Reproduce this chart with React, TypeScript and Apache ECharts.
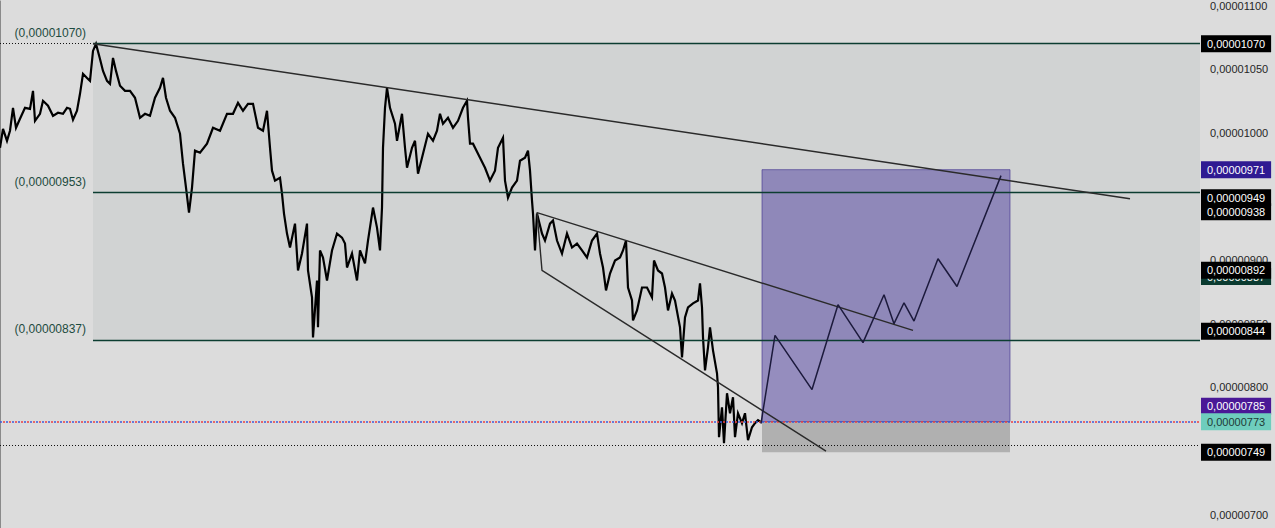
import React, { useEffect, useRef } from "react";
import * as echarts from "echarts";

// prices are in units of 1e-8 (1070 => 0,00001070)
const priceBars = [
  0, 3, 7, 10, 13, 16, 20, 25, 30, 33, 35, 40, 43, 48, 53, 58, 63, 67, 70, 73, 77, 80, 83, 87, 90, 93, 96,
  100, 103, 107, 110, 113, 116, 120, 125, 130, 135, 140, 145, 150, 155, 160, 163, 166, 170, 175, 180, 183,
  186, 189, 192, 195, 200, 207, 213, 220, 227, 233, 238, 243, 248, 253, 258, 263, 267, 270, 272, 275, 280,
  282, 284, 287, 290, 295, 298, 302, 307, 308, 312, 313, 317, 318, 320, 323, 327, 332, 337, 342, 345, 347,
  352, 357, 360, 365, 368, 373, 377, 380, 382, 383, 385, 387, 390, 395, 397, 402, 405, 407, 412, 415, 418,
  423, 428, 433, 437, 440, 443, 448, 453, 458, 463, 467, 468, 470, 473, 480, 485, 490, 495, 498, 503, 505,
  508, 512, 517, 520, 525, 528, 530, 532, 533, 535, 537, 542, 545, 550, 553, 557, 562, 567, 572, 577, 582,
  587, 592, 597, 600, 603, 606, 610, 615, 620, 623, 626, 628, 632, 633, 637, 642, 647, 652, 654, 658, 662,
  665, 668, 672, 675, 680, 682, 685, 688, 693, 698, 700, 702, 703, 705, 708, 710, 713, 717, 718, 719, 722,
  724, 727, 730, 733, 735, 738, 742, 745, 748, 752, 755, 758, 761,
];
const priceValues = [
  988.2, 1003.1, 993.7, 1001.6, 1019.6, 1003.9, 1011.0, 1019.6, 1018.8, 1032.9, 1009.4, 1014.9, 1025.1,
  1021.2, 1013.3, 1015.7, 1014.9, 1019.6, 1018.8, 1010.2, 1017.3, 1030.6, 1046.3, 1043.1, 1040.8, 1064.3,
  1069.8, 1058.0, 1048.6, 1040.8, 1038.4, 1058.8, 1048.6, 1036.9, 1032.9, 1032.9, 1027.5, 1011.8, 1014.9,
  1013.3, 1027.5, 1035.3, 1043.1, 1027.5, 1017.3, 1011.8, 999.2, 975.7, 956.9, 937.3, 956.9, 985.9, 984.3,
  991.4, 1003.9, 1001.6, 1014.9, 1014.9, 1023.5, 1017.3, 1022.7, 1022.7, 1003.9, 1001.6, 1017.3, 988.2,
  970.2, 962.4, 964.7, 952.2, 936.5, 920.8, 909.8, 928.6, 891.8, 905.1, 928.6, 891.8, 870.6, 839.2, 883.9,
  847.1, 907.5, 902.0, 883.9, 907.5, 920.8, 917.6, 912.9, 894.1, 905.1, 883.9, 907.5, 897.3, 915.3, 941.2,
  925.5, 907.5, 941.2, 988.2, 1019.6, 1035.3, 1019.6, 1007.1, 993.7, 1014.9, 988.2, 972.5, 988.2, 993.7,
  967.8, 983.5, 999.2, 993.7, 1001.6, 1014.9, 1007.1, 1011.8, 1003.9, 1009.4, 1019.6, 1025.1, 1011.8, 991.4,
  991.4, 980.4, 972.5, 962.4, 970.2, 988.2, 996.1, 962.4, 949.0, 956.9, 962.4, 978.0, 980.4, 985.9, 970.2,
  946.7, 936.5, 907.5, 936.5, 920.8, 915.3, 928.6, 931.0, 915.3, 905.1, 920.8, 909.8, 912.9, 907.5, 902.0,
  915.3, 920.8, 905.1, 894.1, 876.1, 889.4, 899.6, 902.0, 907.5, 915.3, 878.4, 868.2, 852.5, 860.4, 878.4,
  878.4, 870.6, 899.6, 891.8, 889.4, 878.4, 860.4, 873.7, 868.2, 847.1, 823.5, 854.9, 862.7, 865.9, 868.2,
  881.6, 862.7, 839.2, 813.3, 831.4, 847.1, 829.0, 811.0, 800.0, 760.8, 784.3, 756.1, 795.3, 779.6, 792.2,
  760.8, 779.6, 771.8, 779.6, 758.4, 768.6, 771.8, 774.1, 772.6,
];

// price scale range
const scaleMin = 689.41;
const scaleMax = 1103.53;
const hiddenTickLabels = [950, 750];

// horizontal levels
const levelValues = [1070, 953, 837];
const levelStartBar = 93;
const highValue = 1070;
const currentPrice = 773;
const recentLow = 754.5;

// drawn trend lines [bar, price]
const mainTrend = [
  [93, 1070],
  [1130, 948.2],
];
const wedge = [
  [913, 844.7],
  [537, 937.3],
  [542, 891.8],
  [826, 749.8],
];
const projection = [
  [761, 771.5],
  [775, 840.8],
  [812, 798.2],
  [838, 864.9],
  [863, 835.1],
  [884, 872.7],
  [894, 850.0],
  [904, 866.4],
  [914, 852.0],
  [938, 901.0],
  [957, 879.2],
  [1001, 966.3],
];

// long position box
const boxStart = 762;
const boxEnd = 1010;
const targetPrice = 971;
const entryPrice = 773;
const stopPrice = 749;

// right scale badges
const badgeValues = [1070, 971, 949, 938, 892, 844, 785, 773, 749];
const badgeColors = ["#000000", "#2f1a92", "#000000", "#000000", "#000000", "#000000", "#4a1896", "#6ecdbd", "#000000"];
const badgeTextColors = ["#fff", "#fff", "#fff", "#fff", "#fff", "#fff", "#fff", "#1e3a36", "#fff"];
const hiddenBadgeValue = 887;

const fmt = (v: number) => "0," + String(Math.round(v)).padStart(8, "0");
const FONT = "'Liberation Sans', Arial, sans-serif";

const badgeLabel = (v: number, bg: string, fg: string) => ({
  show: true,
  position: "end",
  distance: 1,
  formatter: fmt(v),
  backgroundColor: bg,
  color: fg,
  opacity: 1,
  fontSize: 11,
  lineHeight: 13,
  fontFamily: FONT,
  padding: [2, 6, 2, 6],
});

export default function App() {
  const ref = useRef<HTMLDivElement>(null);
  useEffect(() => {
    if (!ref.current) return;
    const chart = echarts.init(ref.current, undefined, { renderer: "svg" });
    const priceData = priceBars.map((b, i) => [b, priceValues[i]]);
    const lastBar = 1200;
    const clear = { color: "rgba(0,0,0,0)", width: 0 };

    const option: any = {
      animation: false,
      backgroundColor: "#dcdcdc",
      grid: { left: 0, right: 75, top: 0, bottom: 0 },
      xAxis: { type: "value", min: 0, max: lastBar, show: false },
      yAxis: {
        type: "value",
        position: "right",
        min: scaleMin,
        max: scaleMax,
        splitNumber: 8,
        axisLine: { show: true, lineStyle: { color: "#8a8a8a", width: 1 } },
        axisTick: { show: false },
        splitLine: { show: false },
        axisLabel: {
          formatter: (v: number) => (hiddenTickLabels.includes(Math.round(v)) ? "" : fmt(v)),
          showMinLabel: false,
          showMaxLabel: false,
          color: "#262626",
          fontSize: 11,
          fontFamily: FONT,
          margin: 10,
        },
      },
      series: [
        {
          name: "zone",
          type: "line",
          data: [],
          z: 1,
          markArea: {
            silent: true,
            itemStyle: { color: "#d1d3d3" },
            data: [[{ xAxis: levelStartBar, yAxis: levelValues[0] }, { xAxis: lastBar, yAxis: levelValues[2] }]],
          },
        },
        {
          name: "box",
          type: "line",
          data: [],
          z: 2,
          markArea: {
            silent: true,
            data: [
              [
                { xAxis: boxStart, yAxis: targetPrice, itemStyle: { color: "rgba(77,61,160,0.5)", borderColor: "rgba(60,45,140,0.6)", borderWidth: 1 } },
                { xAxis: boxEnd, yAxis: entryPrice },
              ],
              [
                { xAxis: boxStart, yAxis: entryPrice, itemStyle: { color: "rgba(0,0,0,0.2)" } },
                { xAxis: boxEnd, yAxis: stopPrice },
              ],
            ],
          },
        },
        {
          name: "levels",
          type: "line",
          data: [],
          z: 3,
          markLine: {
            silent: true,
            symbol: ["none", "none"],
            data: [
              { yAxis: highValue, lineStyle: { color: "#111", type: [1, 2], width: 1 }, label: { show: false } },
              { yAxis: recentLow, lineStyle: { color: "#111", type: [1, 2], width: 1 }, label: { show: false } },
              { yAxis: currentPrice, lineStyle: { color: "#3b5bdb", type: [2, 4], width: 1.5 }, label: { show: false } },
              { yAxis: currentPrice, lineStyle: { color: "#f03e3e", type: [2, 4], dashOffset: 3, width: 1.5 }, label: { show: false } },
              ...levelValues.map((v) => [
                {
                  coord: [levelStartBar, v],
                  lineStyle: { color: "#0c3d31", type: "solid", width: 1.3 },
                  label: {
                    show: true,
                    position: "start",
                    formatter: "(" + fmt(v) + ")",
                    color: "#1d4b40",
                    fontSize: 12,
                    fontFamily: FONT,
                    distance: 5,
                    verticalAlign: "bottom",
                    padding: [0, 2, 5, 0],
                  },
                },
                { coord: [lastBar, v] },
              ]),
            ],
          },
        },
        {
          name: "price",
          type: "line",
          data: priceData,
          showSymbol: false,
          z: 4,
          lineStyle: { color: "#000", width: 2.2, join: "miter" },
        },
        {
          name: "trend",
          type: "line",
          data: mainTrend,
          showSymbol: false,
          z: 5,
          lineStyle: { color: "#2a2a2a", width: 1.5 },
        },
        {
          name: "wedge",
          type: "line",
          data: wedge,
          showSymbol: false,
          z: 5,
          lineStyle: { color: "#2a2a2a", width: 1.4 },
        },
        {
          name: "projection",
          type: "line",
          data: projection,
          showSymbol: false,
          z: 5,
          lineStyle: { color: "#1c1a3c", width: 1.5 },
        },
        {
          name: "hiddenBadge",
          type: "line",
          data: [],
          z: 19,
          markLine: {
            silent: true,
            symbol: ["none", "none"],
            data: [{ yAxis: hiddenBadgeValue, lineStyle: clear, label: badgeLabel(hiddenBadgeValue, "#0b3b30", "#fff") }],
          },
        },
        {
          name: "badges",
          type: "line",
          data: [],
          z: 20,
          markLine: {
            silent: true,
            symbol: ["none", "none"],
            data: badgeValues.map((v, i) => ({
              yAxis: v,
              lineStyle: clear,
              label: badgeLabel(v, badgeColors[i], badgeTextColors[i]),
            })),
          },
        },
      ],
    };
    chart.setOption(option);
    return () => chart.dispose();
  }, []);
  return (
    <div
      ref={ref}
      style={{ position: "absolute", left: 0, top: 0, width: 1275, height: 528 }}
    />
  );
}
